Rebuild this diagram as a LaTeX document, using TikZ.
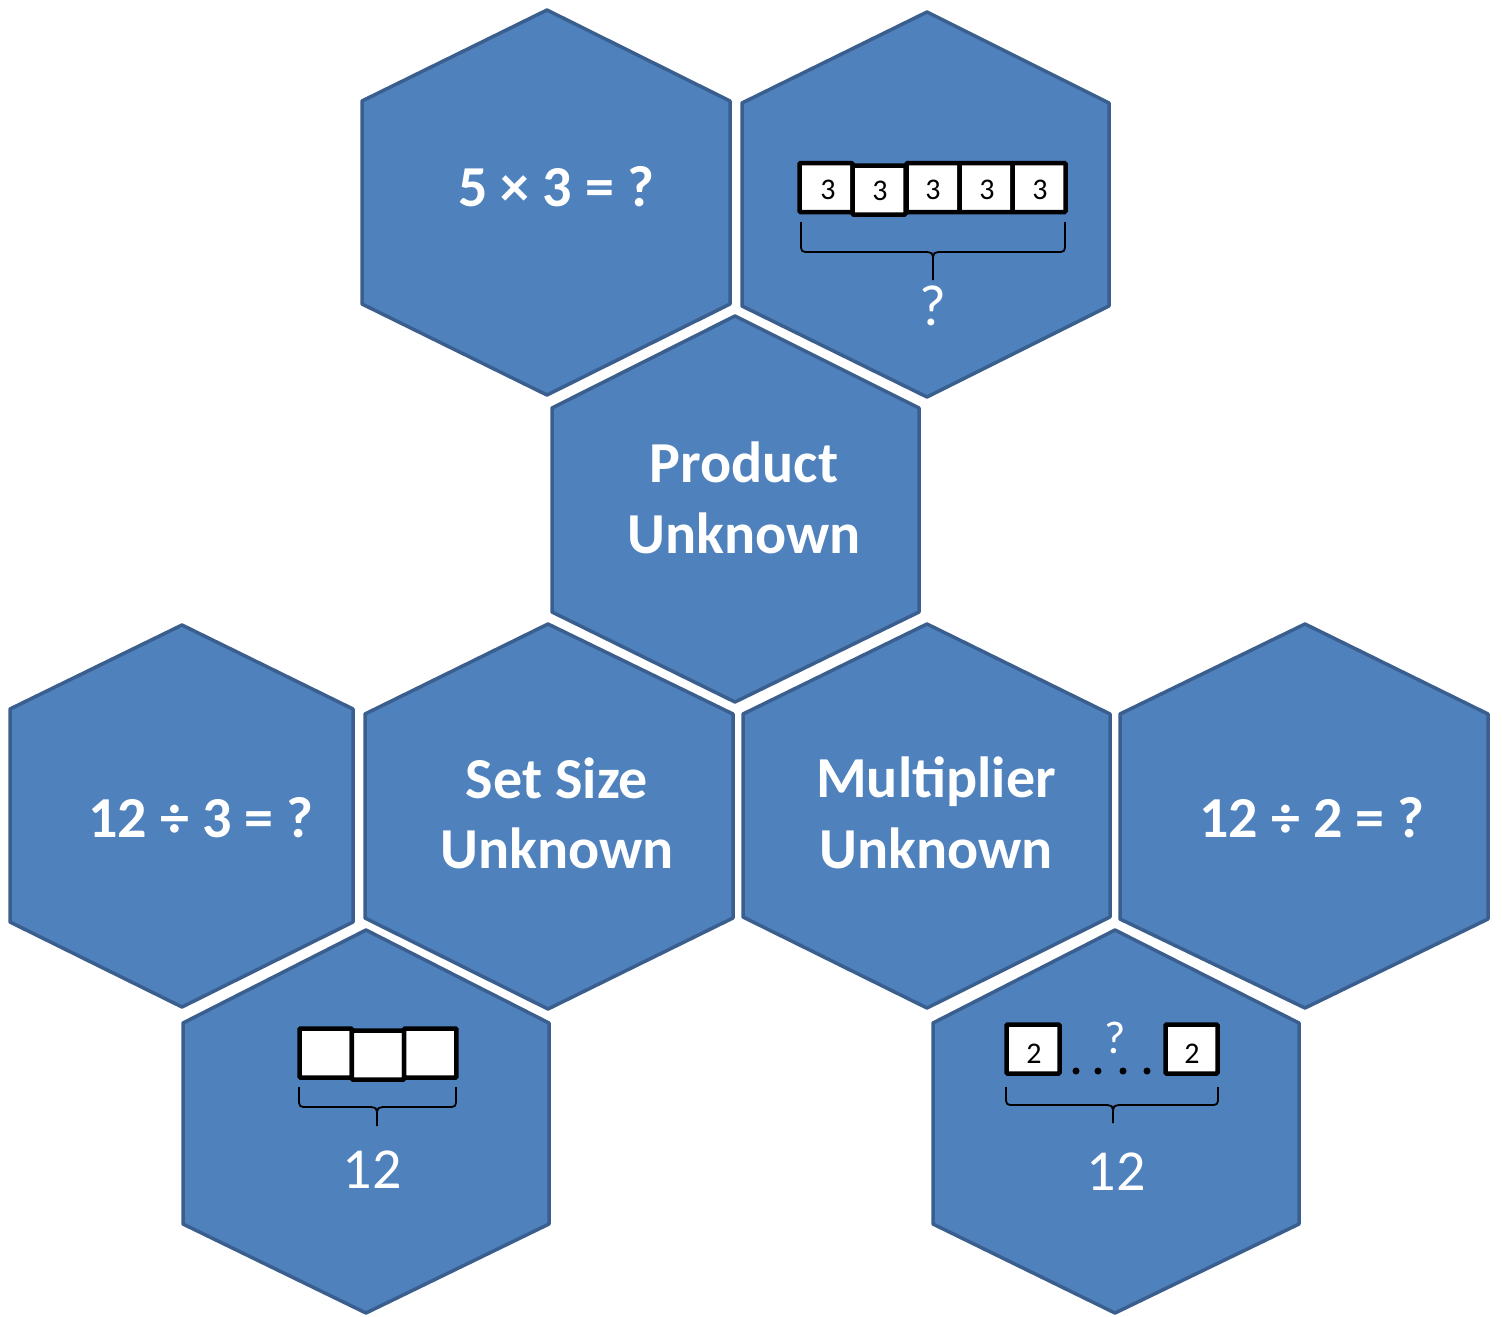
\documentclass[tikz,border=0pt]{standalone}
\usepackage{fontspec}
\setmainfont{Carlito}
\definecolor{hexfill}{HTML}{4F81BD}
\definecolor{hexline}{HTML}{3A5F8E}
\tikzset{
 hex/.style={fill=hexfill, draw=hexline, line width=3.5pt, line join=round},
 lbl/.style={text=white, font=\fontsize{58}{70}\selectfont\bfseries, anchor=base, inner sep=0pt},
 num/.style={text=white, font=\fontsize{58}{70}\selectfont, anchor=base, inner sep=0pt},
 smallq/.style={text=white, font=\fontsize{46}{55}\selectfont, anchor=base, inner sep=0pt},
 cellbox/.style={fill=white, draw=black, line width=4.5pt, rounded corners=1pt, inner sep=0pt,
   minimum height=49pt},
 digit/.style={text=black, font=\fontsize{30}{36}\selectfont, anchor=base, inner sep=0pt},
 bracepath/.style={draw=black, line width=1.8pt, line join=round},
 blackdot/.style={fill=black, circle, inner sep=0pt, minimum size=7pt}
}
% hexagon: #1 centre x, #2 top y, #3 left x, #4 right x, #5 upper corner y, #6 lower corner y, #7 bottom y
\newcommand{\hexcell}[7]{%
  \draw[hex] (#1,#2+2) -- (#4-2,#5+1) -- (#4-2,#6-1) -- (#1,#7-2) -- (#3+2,#6-1) -- (#3+2,#5+1) -- cycle;
}
% #1 left x, #2 right x, #3 top y, #4 bar y, #5 centre x, #6 stem end y
\newcommand{\tapebrace}[6]{%
  \draw[bracepath] (#1,#3) -- (#1,#4-9) .. controls (#1,#4) .. (#1+9,#4) -- (#5-11,#4)
     .. controls (#5,#4) .. (#5,#4+10) -- (#5,#6);
  \draw[bracepath] (#2,#3) -- (#2,#4-9) .. controls (#2,#4) .. (#2-9,#4) -- (#5+11,#4)
     .. controls (#5,#4) .. (#5,#4+10);
}
\begin{document}
\begin{tikzpicture}[x=1pt,y=-1pt]
\useasboundingbox (0,0) rectangle (1502,1317);
% hexagons
\hexcell{547}{8}{360}{732}{100}{305}{397}
\hexcell{927}{10}{740}{1111}{102}{307}{399}
\hexcell{735}{314}{550}{921}{407}{613}{704}
\hexcell{182}{623}{8}{355}{708}{923}{1009}
\hexcell{548}{622}{363}{735}{713}{919}{1011}
\hexcell{927}{622}{741}{1112}{713}{918}{1010}
\hexcell{1305}{622}{1118}{1490}{713}{920}{1010}
\hexcell{366}{928}{181}{551}{1022}{1225}{1315}
\hexcell{1115}{928}{931}{1301}{1022}{1225}{1315}

% labels
\node[lbl] (eq1) at (556,206) {5 × 3 = ?};
\node[lbl] (pu1) at (744,482) {Product};
\node[lbl] (pu2) at (744,553) {Unknown};
\node[lbl] (eq2) at (201,837) {12 ÷ 3 = ?};
\node[lbl] (ss1) at (557,798) {Set Size};
\node[lbl] (ss2) at (557,868) {Unknown};
\node[lbl] (mu1) at (936,797) {Multiplier};
\node[lbl] (mu2) at (936,868) {Unknown};
\node[lbl] (eq3) at (1312,837) {12 ÷ 2 = ?};

% tape of five threes
\node[cellbox, minimum width=53pt] (t1) at (826,187.5) {};
\node[cellbox, minimum width=53pt] (t2) at (879,190) {};
\node[cellbox, minimum width=53pt] (t3) at (933,187.5) {};
\node[cellbox, minimum width=53pt] (t4) at (986,187.5) {};
\node[cellbox, minimum width=53pt] (t5) at (1039,187.5) {};
\node[digit] (t1d) at (828,199) {3};
\node[digit] (t2d) at (880,200) {3};
\node[digit] (t3d) at (933,199) {3};
\node[digit] (t4d) at (987,199) {3};
\node[digit] (t5d) at (1040,199) {3};
\tapebrace{801}{1065}{222}{252}{933}{280}
\node[num] (q1) at (933,325) {?};

% tape of three empty cells
\node[cellbox, minimum width=52.3pt] (s1) at (325.7,1053) {};
\node[cellbox, minimum width=52.3pt] (s2) at (378,1055) {};
\node[cellbox, minimum width=52.3pt] (s3) at (430.3,1053) {};
\tapebrace{299}{456}{1087}{1107}{377}{1126}
\node[num] (n1) at (372,1188) {12};

% tape of twos
\node[cellbox, minimum width=53pt] (w1) at (1033,1049) {};
\node[cellbox, minimum width=52pt] (w2) at (1191.5,1049) {};
\node[digit] (w1d) at (1034,1063) {2};
\node[digit] (w2d) at (1192,1063) {2};
\node[blackdot] (d1) at (1076,1071) {};
\node[blackdot] (d2) at (1098,1071) {};
\node[blackdot] (d3) at (1123,1071) {};
\node[blackdot] (d4) at (1147,1071) {};
\node[smallq] (q2) at (1115,1053) {?};
\tapebrace{1006}{1218}{1087}{1105}{1113}{1123}
\node[num] (n2) at (1116,1190) {12};
\end{tikzpicture}
\end{document}
